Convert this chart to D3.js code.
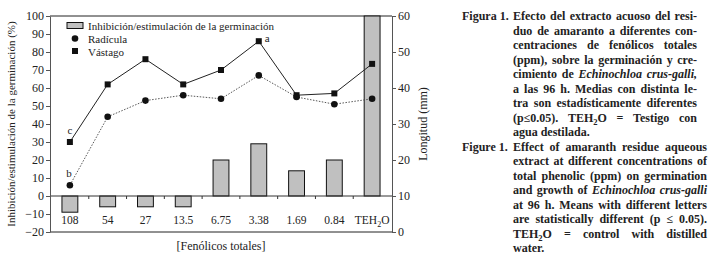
<!DOCTYPE html>
<html>
<head>
<meta charset="utf-8">
<script src="https://cdn.jsdelivr.net/npm/d3@7"></script>
<style>
  body { margin: 0; background: #fff; }
  svg text { font-family: "Liberation Serif", "Times New Roman", serif; fill: #222; }
</style>
</head>
<body>
<svg id="drawing_region"></svg>
<script>
// concentration of total phenolics (ppm) + distilled water control
const categories = [ '108', '54', '27', '13.5', '6.75', '3.38', '1.69', '0.84', 'TEH2O' ];
// inhibition / stimulation of germination (%), left axis
const germinacion = [ -9, -6, -6, -6, 20, 29, 14, 20, 100 ];
// length (mm), right axis
const radicula = [ 13, 32, 36.5, 38, 37, 43.5, 37.5, 35.5, 37 ];
const vastago = [ 25, 41, 48, 41, 45, 53, 38, 38.5, 46.7 ];
const left_ticks = [ -20, -10, 0, 10, 20, 30, 40, 50, 60, 70, 80, 90, 100 ];
const right_ticks = [ 0, 10, 20, 30, 40, 50, 60 ];

const caption_es = [
    'Efecto del extracto acuoso del resi-',
    'duo de amaranto a diferentes con-',
    'centraciones de fenólicos totales',
    '(ppm), sobre la germinación y cre-',
    'cimiento de *Echinochloa *crus-galli,',
    'a las 96 h. Medias con distinta le-',
    'tra son estadísticamente diferentes',
    '(p≤0.05). TEH2O = Testigo con',
    'agua destilada.'
];
const caption_en = [
    'Effect of amaranth residue aqueous',
    'extract at different concentrations of',
    'total phenolic (ppm) on germination',
    'and growth of *Echinochloa *crus-galli',
    'at 96 h. Means with different letters',
    'are statistically different (p ≤ 0.05).',
    'TEH2O = control with distilled',
    'water.'
];

const width = 713, height = 260;
const svg = d3.select( '#drawing_region' )
    .attr( 'width', width )
    .attr( 'height', height );

const plot_left = 50, plot_right = 392, plot_top = 16, plot_bottom = 232;

const xscale = d3.scaleBand()
    .domain( categories )
    .range( [ 51, 391 ] );
const bw = xscale.bandwidth();
const cx = c => xscale( c ) + bw / 2;

const yscale = d3.scaleLinear().domain( [ -20, 100 ] ).range( [ plot_bottom, plot_top ] );
const y2scale = d3.scaleLinear().domain( [ 0, 60 ] ).range( [ plot_bottom, plot_top ] );

// frame
svg.append( 'line' )
    .attr( 'x1', plot_left ).attr( 'x2', plot_right )
    .attr( 'y1', plot_top ).attr( 'y2', plot_top )
    .attr( 'stroke', '#222' );
svg.append( 'line' )
    .attr( 'x1', plot_left ).attr( 'x2', plot_right )
    .attr( 'y1', plot_bottom ).attr( 'y2', plot_bottom )
    .attr( 'stroke', '#222' );

// bars
svg.selectAll( 'rect.bar' )
    .data( germinacion )
    .enter()
    .append( 'rect' )
    .attr( 'class', 'bar' )
    .attr( 'x', ( d, i ) => xscale( categories[i] ) + bw * 0.29 )
    .attr( 'width', bw * 0.42 )
    .attr( 'y', d => yscale( Math.max( d, 0 ) ) )
    .attr( 'height', d => Math.abs( yscale( d ) - yscale( 0 ) ) )
    .attr( 'fill', '#c0c0c0' )
    .attr( 'stroke', '#111' )
    .attr( 'stroke-width', 1 );

// zero line with category ticks
svg.append( 'line' )
    .attr( 'x1', plot_left ).attr( 'x2', plot_right )
    .attr( 'y1', yscale( 0 ) ).attr( 'y2', yscale( 0 ) )
    .attr( 'stroke', '#333' );
svg.selectAll( 'line.ctick' )
    .data( categories.slice( 1 ) )
    .enter()
    .append( 'line' )
    .attr( 'class', 'ctick' )
    .attr( 'x1', d => xscale( d ) ).attr( 'x2', d => xscale( d ) )
    .attr( 'y1', yscale( 0 ) ).attr( 'y2', yscale( 0 ) + 3 )
    .attr( 'stroke', '#333' );

const xaxis_group = svg.append( 'g' )
    .attr( 'transform', `translate(0, ${yscale( 0 )})` )
    .call( d3.axisBottom( xscale ).tickSize( 0 ).tickPadding( 20 ).tickFormat( () => '' ) );
xaxis_group.select( '.domain' ).remove();
xaxis_group.selectAll( '.tick text' ).each( function( d ) {
    const t = d3.select( this ).attr( 'font-size', 11.5 );
    if ( d === 'TEH2O' ) {
        t.append( 'tspan' ).text( 'TEH' );
        t.append( 'tspan' ).attr( 'font-size', 8 ).attr( 'dy', 3 ).text( '2' );
        t.append( 'tspan' ).attr( 'dy', -3 ).text( 'O' );
    } else {
        t.text( d );
    }
} );

// left axis
const yaxis_group = svg.append( 'g' )
    .attr( 'transform', `translate(${plot_left}, 0)` )
    .call( d3.axisLeft( yscale )
        .tickValues( left_ticks )
        .tickSize( 4 )
        .tickSizeOuter( 0 )
        .tickPadding( 2 )
        .tickFormat( d => d < 0 ? '−' + Math.abs( d ) : d ) );
yaxis_group.selectAll( 'text' ).attr( 'font-size', 12 ).style( 'font-family', '"Liberation Serif", serif' );
yaxis_group.selectAll( 'path, line' ).attr( 'stroke', '#555' );

// right axis
const y2axis_group = svg.append( 'g' )
    .attr( 'transform', `translate(${plot_right}, 0)` )
    .call( d3.axisRight( y2scale )
        .tickValues( right_ticks )
        .tickSize( 4 )
        .tickSizeOuter( 0 )
        .tickPadding( 2 ) );
y2axis_group.selectAll( 'text' ).attr( 'font-size', 12 ).style( 'font-family', '"Liberation Serif", serif' );
y2axis_group.selectAll( 'path, line' ).attr( 'stroke', '#555' );

// axis titles
svg.append( 'text' )
    .attr( 'transform', 'translate(15, 124) rotate(-90)' )
    .attr( 'text-anchor', 'middle' )
    .attr( 'font-size', 11 )
    .text( 'Inhibición/estimulación de la germinación (%)' );
svg.append( 'text' )
    .attr( 'transform', 'translate(427, 124) rotate(-90)' )
    .attr( 'text-anchor', 'middle' )
    .attr( 'font-size', 12 )
    .text( 'Longitud (mm)' );
svg.append( 'text' )
    .attr( 'x', 221 ).attr( 'y', 250 )
    .attr( 'text-anchor', 'middle' )
    .attr( 'font-size', 12 )
    .text( '[Fenólicos totales]' );

// lines
const line = d3.line()
    .x( ( d, i ) => cx( categories[i] ) )
    .y( d => y2scale( d ) );

svg.append( 'path' )
    .datum( radicula )
    .attr( 'd', line )
    .attr( 'fill', 'none' )
    .attr( 'stroke', '#444' )
    .attr( 'stroke-width', 0.9 )
    .attr( 'stroke-dasharray', '1.5,1.5' );
svg.append( 'path' )
    .datum( vastago )
    .attr( 'd', line )
    .attr( 'fill', 'none' )
    .attr( 'stroke', '#222' )
    .attr( 'stroke-width', 1 );

svg.selectAll( 'circle.rad' )
    .data( radicula )
    .enter()
    .append( 'circle' )
    .attr( 'class', 'rad' )
    .attr( 'cx', ( d, i ) => cx( categories[i] ) )
    .attr( 'cy', d => y2scale( d ) )
    .attr( 'r', 3.3 )
    .attr( 'fill', '#111' );
svg.selectAll( 'rect.vas' )
    .data( vastago )
    .enter()
    .append( 'rect' )
    .attr( 'class', 'vas' )
    .attr( 'x', ( d, i ) => cx( categories[i] ) - 3 )
    .attr( 'y', d => y2scale( d ) - 3 )
    .attr( 'width', 6 ).attr( 'height', 6 )
    .attr( 'fill', '#111' );

// significance letters
svg.append( 'text' )
    .attr( 'x', cx( categories[0] ) ).attr( 'y', y2scale( vastago[0] ) - 8 )
    .attr( 'text-anchor', 'middle' ).attr( 'font-size', 11 ).text( 'c' );
svg.append( 'text' )
    .attr( 'x', cx( categories[0] ) - 1 ).attr( 'y', y2scale( radicula[0] ) - 8 )
    .attr( 'text-anchor', 'middle' ).attr( 'font-size', 11 ).text( 'b' );
svg.append( 'text' )
    .attr( 'x', cx( categories[5] ) + 6 ).attr( 'y', y2scale( vastago[5] ) + 1 )
    .attr( 'font-size', 11 ).text( 'a' );

// legend
const legend = svg.append( 'g' );
legend.append( 'rect' )
    .attr( 'x', 67 ).attr( 'y', 22.5 ).attr( 'width', 16 ).attr( 'height', 6 )
    .attr( 'fill', '#c0c0c0' ).attr( 'stroke', '#111' );
legend.append( 'circle' )
    .attr( 'cx', 75 ).attr( 'cy', 38.5 ).attr( 'r', 3.3 ).attr( 'fill', '#111' );
legend.append( 'rect' )
    .attr( 'x', 72 ).attr( 'y', 48 ).attr( 'width', 6 ).attr( 'height', 6 ).attr( 'fill', '#111' );
[ 'Inhibición/estimulación de la germinación', 'Radícula', 'Vástago' ].forEach( ( t, i ) => {
    legend.append( 'text' )
        .attr( 'x', 88 ).attr( 'y', 29.5 + i * 13 )
        .attr( 'font-size', 11 )
        .text( t );
} );

// caption, justified word by word
function drawWord( g, word, x, y ) {
    const italic = word.startsWith( '*' );
    const w = italic ? word.slice( 1 ) : word;
    const t = g.append( 'text' )
        .attr( 'x', x ).attr( 'y', y )
        .attr( 'font-size', 12 )
        .attr( 'font-weight', 'bold' )
        .attr( 'font-style', italic ? 'italic' : 'normal' )
        .attr( 'fill', '#222' );
    if ( w.indexOf( 'TEH2O' ) >= 0 ) {
        t.append( 'tspan' ).text( 'TEH' );
        t.append( 'tspan' ).attr( 'font-size', 8.5 ).attr( 'dy', 3 ).text( '2' );
        t.append( 'tspan' ).attr( 'dy', -3 ).text( 'O' + w.replace( 'TEH2O', '' ) );
    } else {
        t.text( w );
    }
    return t.node().getComputedTextLength();
}

function drawParagraph( label, lines, x0, x1, ytop ) {
    const g = svg.append( 'g' );
    g.append( 'text' )
        .attr( 'x', 462 ).attr( 'y', ytop )
        .attr( 'font-size', 12 ).attr( 'font-weight', 'bold' )
        .text( label );
    lines.forEach( ( ln, li ) => {
        const y = ytop + li * 14.5;
        const words = ln.split( / +/ ).map( w => w.replace( /\*$/, '' ) );
        const wg = g.append( 'g' );
        const widths = words.map( w => drawWord( wg, w, 0, y ) );
        const total = d3.sum( widths );
        const last = li === lines.length - 1;
        const gap = last || words.length < 2 ? 3 : ( x1 - x0 - total ) / ( words.length - 1 );
        let x = x0;
        wg.selectAll( 'text' ).each( function( d, i ) {
            d3.select( this ).attr( 'x', x );
            x += widths[i] + gap;
        } );
    } );
}

drawParagraph( 'Figura 1.', caption_es, 513, 697, 20 );
drawParagraph( 'Figure 1.', caption_en, 513, 707, 150.5 );
</script>
</body>
</html>
